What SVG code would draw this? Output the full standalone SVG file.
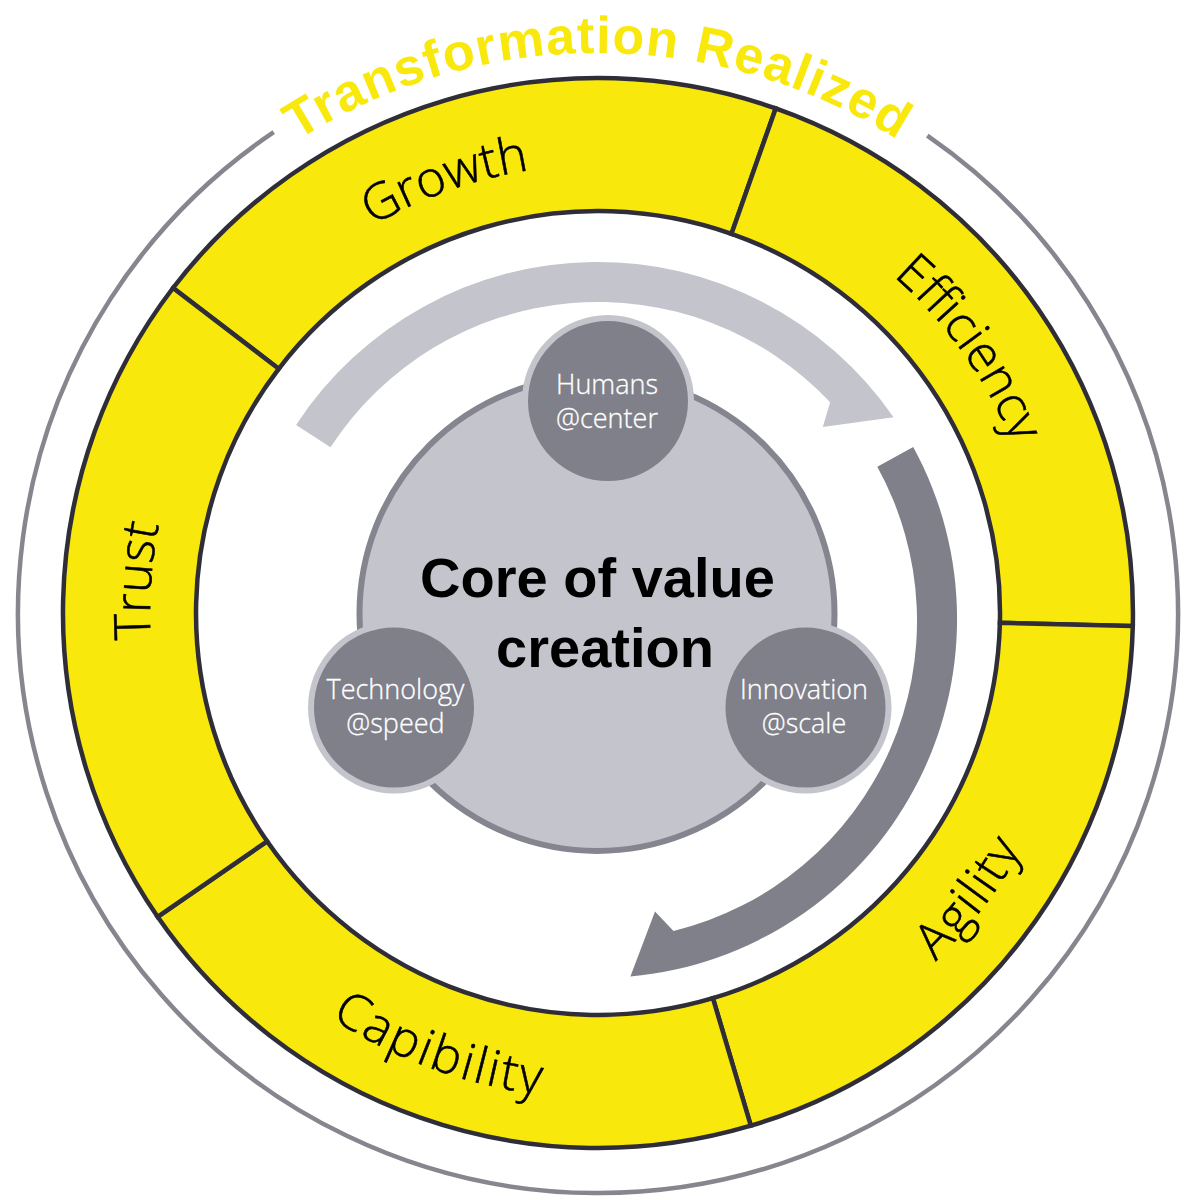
<svg xmlns="http://www.w3.org/2000/svg" width="1200" height="1200" viewBox="0 0 1200 1200">
<style>
.seg{fill:#f9e80b;stroke:#2e2d38;stroke-width:4.5;stroke-linejoin:miter}
.lbl{font-family:"Open Sans",Lato,"Liberation Sans",sans-serif;font-weight:300;font-size:50px;fill:#000;stroke:#000;stroke-width:0.6;text-anchor:middle}
.small{fill:#80808a;stroke:#c4c4cc;stroke-width:6}
.stxt{font-family:"Open Sans",Lato,"Liberation Sans",sans-serif;font-weight:300;font-size:27px;fill:#fff;stroke:#fff;stroke-width:0.3;text-anchor:middle}
.core{font-family:"Liberation Sans",Arial,sans-serif;font-weight:700;font-size:56px;fill:#000;text-anchor:middle}
.title{font-family:"Liberation Sans",Arial,sans-serif;font-weight:700;font-size:52px;fill:#f9e80b;letter-spacing:1.3px;text-anchor:middle}
</style>
<defs>
<path id="pTitle" d="M 202 217 A 560 560 0 0 1 994 217"/>
<path id="pGrowth" d="M 212.0 385.6 A 448 448 0 0 1 754.9 193.4"/>
<path id="pEff" d="M 710.2 179.3 A 448 448 0 0 1 1044.6 648.2"/>
<path id="pTrust" d="M 235.6 876.3 A 448 448 0 0 1 275.7 301.8"/>
<path id="pAgil" d="M 703.8 1086.3 A 485 485 0 0 0 1082.5 591.0"/>
<path id="pCap" d="M 178.0 855.5 A 485 485 0 0 0 763.9 1068.7"/>
</defs>
<rect width="1200" height="1200" fill="#fff"/>
<g id="outer-ring">
<path d="M 927.3 135.6 A 580 580 0 1 1 273.7 132.2" fill="none" stroke="#86868f" stroke-width="4.5"/>
<text class="title"><textPath href="#pTitle" startOffset="50%">Transformation Realized</textPath></text>
</g>
<g id="growth">
<path class="seg" d="M 173.0 288.0 A 535 535 0 0 1 775.7 108.4 L 731.5 233.8 A 402 402 0 0 0 278.7 368.8 Z"/>
<text class="lbl"><textPath href="#pGrowth" startOffset="50%">Growth</textPath></text>
</g>
<g id="efficiency">
<path class="seg" d="M 775.7 108.4 A 535 535 0 0 1 1132.8 626.1 L 999.9 622.8 A 402 402 0 0 0 731.5 233.8 Z"/>
<text class="lbl"><textPath href="#pEff" startOffset="50%">Efficiency</textPath></text>
</g>
<g id="agility">
<path class="seg" d="M 1132.8 626.1 A 535 535 0 0 1 750.8 1125.7 L 712.9 998.2 A 402 402 0 0 0 999.9 622.8 Z"/>
<text class="lbl" letter-spacing="2"><textPath href="#pAgil" startOffset="50%">Agility</textPath></text>
</g>
<g id="capibility">
<path class="seg" d="M 750.8 1125.7 A 535 535 0 0 1 157.6 916.8 L 267.1 841.3 A 402 402 0 0 0 712.9 998.2 Z"/>
<text class="lbl" letter-spacing="2.5"><textPath href="#pCap" startOffset="50%">Capibility</textPath></text>
</g>
<g id="trust">
<path class="seg" d="M 157.6 916.8 A 535 535 0 0 1 173.0 288.0 L 278.7 368.8 A 402 402 0 0 0 267.1 841.3 Z"/>
<text class="lbl"><textPath href="#pTrust" startOffset="50%">Trust</textPath></text>
</g>
<g id="connectors">
<path d="M 296.1 424.9 A 360 360 0 0 1 893.5 417.2 L 822.8 426.9 L 830.2 402.2 A 319 319 0 0 0 330.5 447.3 Z" fill="#c4c4cc"/>
<path d="M 913.2 447.0 A 359 359 0 0 1 630.4 976.5 L 655.0 911.5 L 673.5 930.9 A 319 319 0 0 0 877.3 466.8 Z" fill="#80808a"/>
</g>
<g id="core">
<circle cx="597" cy="613.5" r="237.5" fill="#c4c4cc" stroke="#85858f" stroke-width="6"/>
<text class="core" x="597.5" y="597">Core of value</text>
<text class="core" x="605" y="667">creation</text>
</g>
<g id="humans">
<circle class="small" cx="608" cy="401" r="83"/>
<text class="stxt" x="607" y="394">Humans</text>
<text class="stxt" x="607" y="428">@center</text>
</g>
<g id="technology">
<circle class="small" cx="394" cy="707.5" r="83"/>
<text class="stxt" x="395.5" y="699">Technology</text>
<text class="stxt" x="395.5" y="733">@speed</text>
</g>
<g id="innovation">
<circle class="small" cx="805.5" cy="707.5" r="83"/>
<text class="stxt" x="804" y="699">Innovation</text>
<text class="stxt" x="804" y="733">@scale</text>
</g>
</svg>
